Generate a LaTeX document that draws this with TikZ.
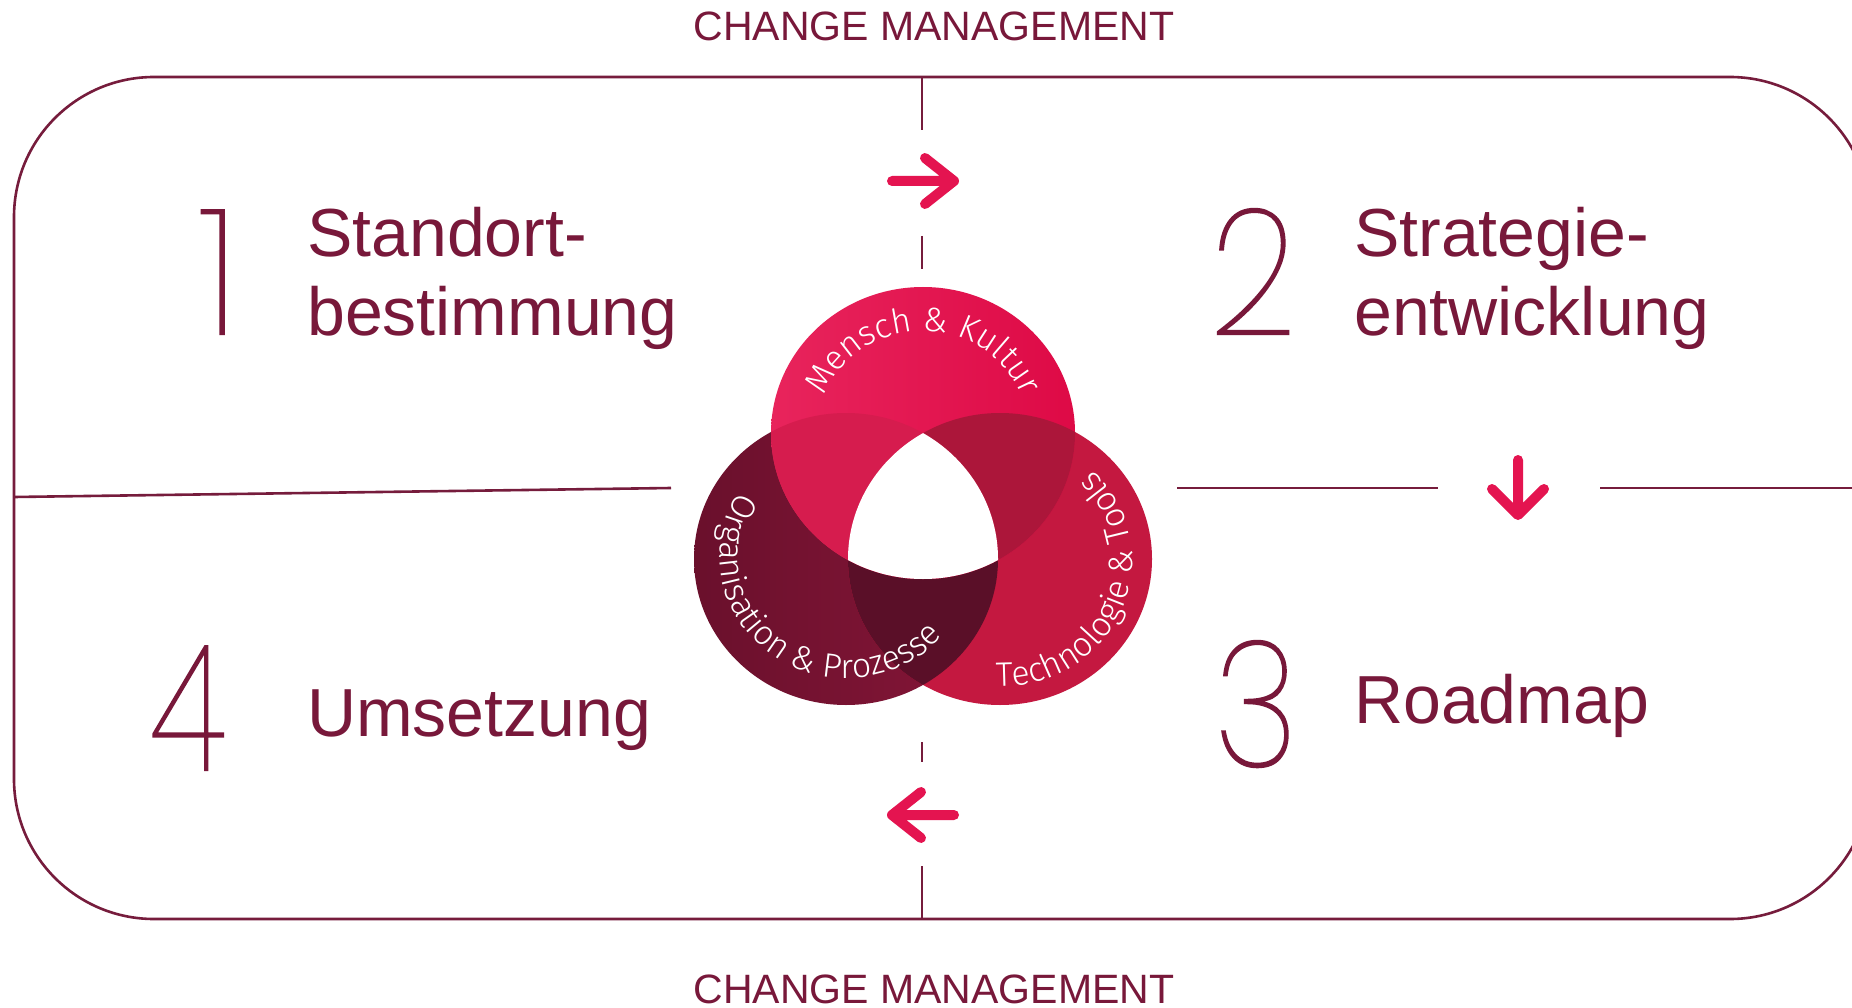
\documentclass[tikz,border=0pt]{standalone}
\usepackage{fontspec}
\setmainfont{Liberation Sans}
\IfFontExistsTF{Poppins Thin}{\newfontfamily\numfont{Poppins Thin}[FakeBold=1.2]}{%
  \IfFontExistsTF{Poppins ExtraLight}{\newfontfamily\numfont{Poppins ExtraLight}}{\newfontfamily\numfont{Poppins}}}
\IfFontExistsTF{Fira Sans Light}{\newfontfamily\arcfont{Fira Sans Light}}{\newfontfamily\arcfont{Fira Sans}}
\usetikzlibrary{calc,decorations.text}
\definecolor{maroon}{RGB}{120,24,58}
\definecolor{boxcol}{RGB}{118,28,60}
\definecolor{pinkarr}{RGB}{228,20,80}
\definecolor{topL}{RGB}{232,36,92}
\definecolor{topR}{RGB}{222,10,70}
\definecolor{leftL}{RGB}{106,16,44}
\definecolor{leftR}{RGB}{134,22,56}
\definecolor{rightcol}{RGB}{196,24,64}
\definecolor{trcol}{RGB}{172,22,58}
\definecolor{tlcol}{RGB}{214,28,78}
\definecolor{lrcol}{RGB}{90,15,40}
\begin{document}
\begin{tikzpicture}[x=1pt,y=1pt,
  boxline/.style={draw=boxcol, line width=2.6pt},
  pinkarrow/.style={draw=pinkarr, line width=10pt, line cap=round, line join=round},
  maintext/.style={text=maroon, inner sep=0pt, font=\fontsize{68}{78}\selectfont},
  numtext/.style={text=maroon, inner sep=0pt, anchor=base, font=\numfont\fontsize{176}{176}\selectfont},
  cmtext/.style={text=maroon, inner sep=0pt, font=\fontsize{41}{48}\selectfont},
  arclabel/.style={decorate, decoration={text along path, text align=center, text color=white}},
  venn/.style={x radius=152pt, y radius=146pt}
]
\useasboundingbox (0,0) rectangle (1852,-1008);
\fill[white] (0,0) rectangle (1852,-1008);

% frame
\draw[boxline, rounded corners=140pt] (14,-77) rectangle (1870,-919);

% horizontal divider
\coordinate (hl1) at (14,-497);
\coordinate (hl2) at (671,-488);
\coordinate (hr1) at (1177,-488);
\coordinate (hr2) at (1438,-488);
\coordinate (hr3) at (1600,-488);
\coordinate (hr4) at (1870,-488);
\draw[boxline] (hl1) -- (hl2);
\draw[boxline] (hr1) -- (hr2);
\draw[boxline] (hr3) -- (hr4);

% vertical divider
\coordinate (v1) at (922,-77);
\coordinate (v2) at (922,-130);
\coordinate (v3) at (922,-236);
\coordinate (v4) at (922,-269);
\coordinate (v5) at (922,-742);
\coordinate (v6) at (922,-762);
\coordinate (v7) at (922,-866);
\coordinate (v8) at (922,-919);
\draw[boxline] (v1) -- (v2);
\draw[boxline] (v3) -- (v4);
\draw[boxline] (v5) -- (v6);
\draw[boxline] (v7) -- (v8);

% arrows
\coordinate (a1s) at (892,-181);
\coordinate (a1t) at (954,-181);
\coordinate (a1u) at (925,-158);
\coordinate (a1d) at (925,-204);
\draw[pinkarrow] (a1s) -- (a1t) (a1u) -- (a1t) -- (a1d);

\coordinate (a2s) at (1518,-460);
\coordinate (a2t) at (1518,-515);
\coordinate (a2l) at (1492,-489);
\coordinate (a2r) at (1544,-489);
\draw[pinkarrow] (a2s) -- (a2t) (a2l) -- (a2t) -- (a2r);

\coordinate (a3s) at (954,-815);
\coordinate (a3t) at (892,-815);
\coordinate (a3u) at (921,-792);
\coordinate (a3d) at (921,-838);
\draw[pinkarrow] (a3s) -- (a3t) (a3u) -- (a3t) -- (a3d);

% Venn circles
\coordinate (ctop) at (923,-433);
\coordinate (cleft) at (846,-559);
\coordinate (cright) at (1000,-559);
\shade[left color=leftL, right color=leftR] (cleft) ellipse[venn];
\fill[rightcol] (cright) ellipse[venn];
\begin{scope}
  \clip (cleft) ellipse[venn];
  \fill[lrcol] (cright) ellipse[venn];
\end{scope}
\shade[left color=topL, right color=topR] (ctop) ellipse[venn];
\begin{scope}
  \clip (ctop) ellipse[venn];
  \fill[trcol] (cright) ellipse[venn];
  \fill[tlcol] (cleft) ellipse[venn];
  \clip (cleft) ellipse[venn];
  \fill[white] (cright) ellipse[venn];
\end{scope}

% circle labels
\path[arclabel, decoration={text={|\arcfont\fontsize{34}{34}\selectfont|Mensch {\&} Kultur}}]
  ($(ctop)+(-106pt,0)$) arc[start angle=180, end angle=0, x radius=106pt, y radius=102pt];
\path[arclabel, decoration={text={|\arcfont\fontsize{34}{34}\selectfont|Organisation {\&} Prozesse}}]
  ($(cleft)+(110:125pt)$) arc[start angle=110, end angle=358, x radius=127pt, y radius=122pt];
\path[arclabel, decoration={text={|\arcfont\fontsize{34}{34}\selectfont|Technologie {\&} Tools}}]
  ($(cright)+(-118:128pt)$) arc[start angle=-118, end angle=72, x radius=131pt, y radius=126pt];

% titles
\node[cmtext] (cmtop) at (934,-26) {CHANGE MANAGEMENT};
\node[cmtext] (cmbot) at (934,-989) {CHANGE MANAGEMENT};

% numbers
\node[numtext] (n1) at (219,-334) {1};
\node[numtext, xscale=0.86] (n2) at (1253,-334) {2};
\node[numtext, xscale=0.82] (n3) at (1256,-766) {3};
\node[numtext, xscale=0.74] (n4) at (188,-770) {4};

% step texts
\node[maintext, anchor=base west] (s1a) at (307,-257) {Standort-};
\node[maintext, anchor=base west] (s1b) at (307,-335) {bestimmung};
\node[maintext, anchor=base west] (s2a) at (1354,-257) {Strategie-};
\node[maintext, anchor=base west] (s2b) at (1354,-335) {entwicklung};
\node[maintext, anchor=base west] (s3) at (1354,-723) {Roadmap};
\node[maintext, anchor=base west] (s4) at (307,-736) {Umsetzung};
\end{tikzpicture}
\end{document}
